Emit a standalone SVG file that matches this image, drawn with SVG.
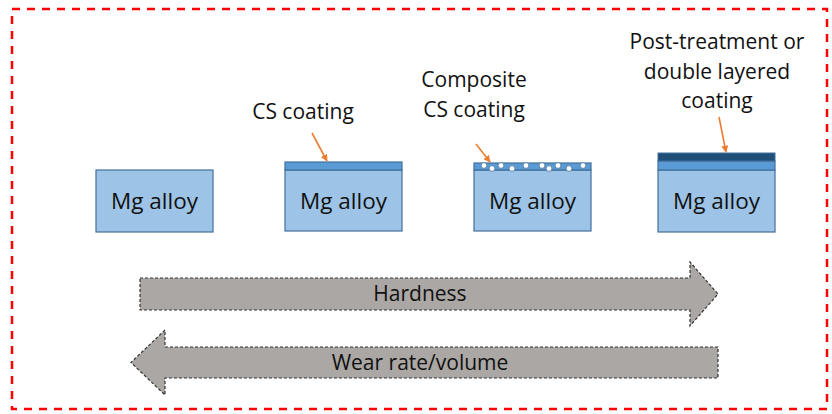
<svg xmlns="http://www.w3.org/2000/svg" width="832" height="414" viewBox="0 0 832 414">
<defs>
<style>
.frame{fill:none;stroke:#ff0000;stroke-width:2.5;stroke-dasharray:8 7}
.box{fill:#9dc3e6;stroke:#41719c;stroke-width:1.2}
.band{fill:#5b9bd5;stroke:#41719c;stroke-width:1.2}
.dark{fill:#1f4e79;stroke:#41719c;stroke-width:1}
.dot{fill:#ffffff;stroke:#41719c;stroke-width:0.8}
.t{font-family:"Open Sans","Liberation Sans",sans-serif;font-size:21px;fill:#111;text-anchor:middle}
.m{font-size:22.5px}
.big{fill:#aaa7a4;stroke:#333;stroke-width:1.2;stroke-dasharray:3 2}
.lead{stroke:#ed7d31;stroke-width:1.6;fill:none;marker-end:url(#ah)}
</style>
<marker id="ah" viewBox="0 0 10 10" refX="9" refY="5" markerWidth="7" markerHeight="7" orient="auto" markerUnits="userSpaceOnUse">
<path d="M0,0 L10,5 L0,10 z" fill="#ed7d31"/>
</marker>
</defs>
<rect class="frame" x="12" y="9" width="815" height="400"/>
<g id="node1">
<rect class="box" x="96" y="170" width="117" height="62"/>
<text class="t m" x="154.5" y="209">Mg alloy</text>
</g>
<g id="node2">
<rect class="box" x="285" y="170" width="117" height="61"/>
<rect class="band" x="285" y="162" width="117" height="8"/>
<text class="t m" x="343.5" y="209">Mg alloy</text>
<text class="t" x="303" y="119">CS coating</text>
</g>
<g id="node3">
<rect class="box" x="474" y="170" width="117" height="61"/>
<rect class="band" x="474" y="163" width="117" height="7"/>
<circle class="dot" cx="484" cy="165.5" r="2.9"/>
<circle class="dot" cx="492" cy="168.5" r="2.9"/>
<circle class="dot" cx="501" cy="165.5" r="2.9"/>
<circle class="dot" cx="512" cy="168.5" r="2.9"/>
<circle class="dot" cx="526" cy="165.5" r="2.9"/>
<circle class="dot" cx="542" cy="165.5" r="2.9"/>
<circle class="dot" cx="549" cy="168.5" r="2.9"/>
<circle class="dot" cx="558" cy="165.5" r="2.9"/>
<circle class="dot" cx="569" cy="168.5" r="2.9"/>
<circle class="dot" cx="583" cy="165.5" r="2.9"/>
<text class="t m" x="532.5" y="209">Mg alloy</text>
<text class="t" x="474" y="87">Composite</text>
<text class="t" x="474" y="117">CS coating</text>
</g>
<g id="node4">
<rect class="box" x="658" y="170" width="117" height="62"/>
<rect class="band" x="658" y="161" width="117" height="9"/>
<rect class="dark" x="658" y="153" width="117" height="8"/>
<text class="t m" x="716.5" y="209">Mg alloy</text>
<text class="t" x="717" y="49">Post-treatment or</text>
<text class="t" x="717" y="79">double layered</text>
<text class="t" x="717" y="108">coating</text>
</g>
<g id="hardness">
<path class="big" d="M140,278 L690,278 L690,262 L718,294 L690,326 L690,310 L140,310 Z"/>
<text class="t" x="420" y="301">Hardness</text>
</g>
<g id="wear">
<path class="big" d="M718,347 L165,347 L165,330 L131,362.5 L165,395 L165,378 L718,378 Z"/>
<text class="t" x="420" y="370">Wear rate/volume</text>
</g>
<g id="connectors">
<line class="lead" x1="312" y1="133" x2="327" y2="161"/>
<line class="lead" x1="476" y1="144" x2="490" y2="162"/>
<line class="lead" x1="719" y1="117" x2="726" y2="152"/>
</g>
</svg>
